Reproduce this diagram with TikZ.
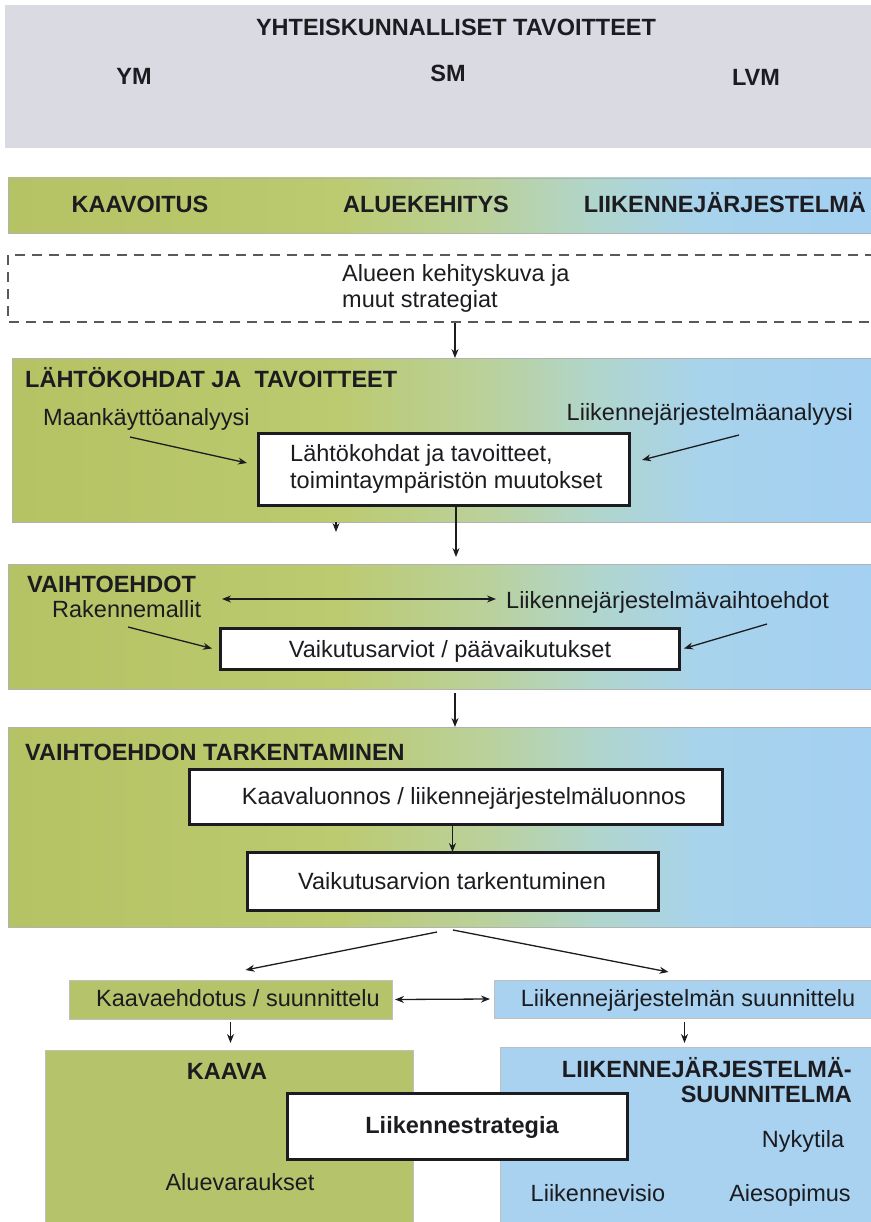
\documentclass[tikz,border=0pt]{standalone}
\usepackage{fontspec}
\setmainfont{Liberation Sans}
\usetikzlibrary{arrows.meta,fit,calc}
\definecolor{ink}{RGB}{28,28,32}
\definecolor{greyband}{RGB}{218,218,226}
\definecolor{sA}{RGB}{181,195,100}
\definecolor{sB}{RGB}{188,202,112}
\definecolor{sC}{RGB}{186,209,155}
\definecolor{sD}{RGB}{176,213,205}
\definecolor{sE}{RGB}{168,211,236}
\definecolor{sF}{RGB}{164,208,242}
\definecolor{kgreen}{RGB}{181,195,106}
\definecolor{lblue}{RGB}{168,210,240}
% TikZ maps the span 25bp..75bp of a declared shading onto the path
\pgfdeclarehorizontalshading{bandshade}{100bp}{color(0bp)=(sA); color(25bp)=(sA); color(44bp)=(sB); color(52.5bp)=(sC); color(59bp)=(sD); color(65bp)=(sE); color(75bp)=(sF); color(100bp)=(sF)}
\begin{document}
\begin{tikzpicture}[x=1pt,y=-1pt,
  txt/.style={font=\fontsize{23.5}{27}\selectfont, text=ink, inner sep=0pt},
  hd/.style={font=\fontsize{23.5}{27}\selectfont\bfseries, text=ink, inner sep=0pt},
  rect/.style={inner sep=0pt, outer sep=0pt},
  band/.style={rect, shade, shading=bandshade, draw=black!30, line width=0.6pt},
  gbox/.style={rect, fill=kgreen, draw=black!25, line width=0.6pt},
  bbox/.style={rect, fill=lblue, draw=black!25, line width=0.6pt},
  wbox/.style={rect, fill=white, draw=ink, line width=3pt},
  arr/.style={draw=ink, line width=1.3pt, -{Stealth[length=9pt,width=7pt]}},
  darr/.style={draw=ink, line width=1.3pt, {Stealth[length=9pt,width=7pt]}-{Stealth[length=9pt,width=7pt]}},
  dsh/.style={draw=black!65, line width=1.2pt, dash pattern=on 10pt off 7pt}]
\useasboundingbox (0,0) rectangle (870,1222);

% top grey band
\node[rect, fill=greyband, fit={(5,5)(875,148)}] (gov) {};
\node[hd, anchor=base] (govt) at (456,36) {YHTEISKUNNALLISET TAVOITTEET};
\node[hd, anchor=base] (ym) at (134,85) {YM};
\node[hd, anchor=base] (sm) at (448,82) {SM};
\node[hd, anchor=base] (lvm) at (756,86) {LVM};

% second band
\node[band, fit={(8,178)(875,233)}] (b2) {};
\node[hd, anchor=base] (kaav) at (140,213) {KAAVOITUS};
\node[hd, anchor=base] (alue) at (426,213) {ALUEKEHITYS};
\node[hd, anchor=base east] (ljs) at (866,213) {LIIKENNEJÄRJESTELMÄ};

% dashed region
\draw[dsh] (875,255) -- (8,255) -- (8,322) -- (875,322);
\node[txt, align=left, anchor=west, font=\fontsize{23.5}{26}\selectfont] (dtext) at (342,288) {Alueen kehityskuva ja\\muut strategiat};
\coordinate (dbot) at (455,323);

% band 3
\node[band, fit={(12,358)(875,522)}] (b3) {};
\draw[arr] (dbot) -- (dbot |- b3.north);
\node[hd, anchor=base west] (h3) at (25,387) {LÄHTÖKOHDAT JA\ \ TAVOITTEET};
\node[txt, anchor=base west] (maa) at (43,425) {Maankäyttöanalyysi};
\node[txt, anchor=base east] (lja) at (853,420) {Liikennejärjestelmäanalyysi};
\node[wbox, fit={(258,433)(629,505)}] (L1) {};
\node[txt, align=left, anchor=west] (L1t) at (290,469) {Lähtökohdat ja tavoitteet,\\toimintaympäristön muutokset};
\coordinate (maaT) at (130,437);
\coordinate (ljaT) at (739,435);
\draw[arr] (maaT) -- ($(L1.west)+(-11,-6)$);
\draw[arr] (ljaT) -- ($(L1.east)+(13,-9)$);
\coordinate (s3) at (336,522);
\draw[arr] (s3) -- ++(0,10);

% band 4
\node[band, fit={(8,564)(875,689)}] (b4) {};
\coordinate (a34) at (456,505);
\draw[arr, shorten >=7pt] (a34) -- (a34 |- b4.north);
\node[hd, anchor=base west] (h4) at (27,592) {VAIHTOEHDOT};
\node[txt, anchor=base west] (rak) at (52,617) {Rakennemallit};
\node[txt, anchor=base west] (ljv) at (506,608) {Liikennejärjestelmävaihtoehdot};
\coordinate (dA) at (222,599);
\draw[darr, shorten >=10pt] (dA) -- (dA -| ljv.west);
\node[wbox, fit={(220,628)(679,669)}] (V1) {};
\node[txt, anchor=base] (V1t) at (450,657) {Vaikutusarviot / päävaikutukset};
\coordinate (rakT) at (128,627);
\coordinate (ljvT) at (767,624);
\draw[arr] (rakT) -- ($(V1.west)+(-8,0)$);
\draw[arr] (ljvT) -- ($(V1.east)+(5,0)$);

% band 5
\node[band, fit={(8,727)(875,927)}] (b5) {};
\coordinate (a45) at (455,693);
\draw[arr] (a45) -- (a45 |- b5.north);
\node[hd, anchor=base west] (h5) at (25,760) {VAIHTOEHDON TARKENTAMINEN};
\node[wbox, fit={(189,769)(722,824)}] (K1) {};
\node[txt, anchor=base] (K1t) at (464,804) {Kaavaluonnos / liikennejärjestelmäluonnos};
\node[wbox, fit={(247,852)(658,910)}] (K2) {};
\node[txt, anchor=base] (K2t) at (452,889) {Vaikutusarvion tarkentuminen};
\draw[arr] (K1.south -| K2.north) -- (K2.north);

% split
\node[gbox, fit={(69,980)(392,1019)}] (KE) {};
\node[txt, anchor=base] (KEt) at (238,1006) {Kaavaehdotus / suunnittelu};
\node[bbox, fit={(494,980)(875,1018)}] (LS) {};
\node[txt, anchor=base] (LSt) at (688,1006) {Liikennejärjestelmän suunnittelu};
\coordinate (sp1) at (437,932);
\coordinate (sp2) at (453,930);
\draw[arr] (sp1) -- ($(KE.north)+(15,-10)$);
\draw[arr] (sp2) -- ($(LS.north)+(-16,-8)$);
\draw[darr] ($(KE.east)+(3,0)$) -- ($(LS.west)+(-4,0)$);

% bottom boxes
\node[gbox, fit={(45,1050)(413,1235)}] (KA) {};
\node[bbox, fit={(500,1047)(875,1235)}] (LJ) {};
\draw[arr, shorten <=3pt, shorten >=7pt] (KE.south) -- (KE.south |- KA.north);
\draw[arr, shorten <=4pt, shorten >=4pt] (LS.south) -- (LS.south |- LJ.north);
\node[hd, anchor=base] (kaava) at (227,1079) {KAAVA};
\node[hd, align=right, anchor=east, font=\fontsize{23.5}{25}\selectfont\bfseries] (ljsu) at (852,1080) {LIIKENNEJÄRJESTELMÄ-\\SUUNNITELMA};
\node[txt, anchor=base] (nyk) at (803,1147) {Nykytila};
\node[txt, anchor=base] (alv) at (240,1190) {Aluevaraukset};
\node[txt, anchor=base] (lvis) at (598,1201) {Liikennevisio};
\node[txt, anchor=base] (aie) at (790,1201) {Aiesopimus};
\node[wbox, fit={(287,1093)(627,1159)}] (LSg) {};
\node[hd, anchor=base] (LSgt) at (462,1133) {Liikennestrategia};
\end{tikzpicture}
\end{document}
